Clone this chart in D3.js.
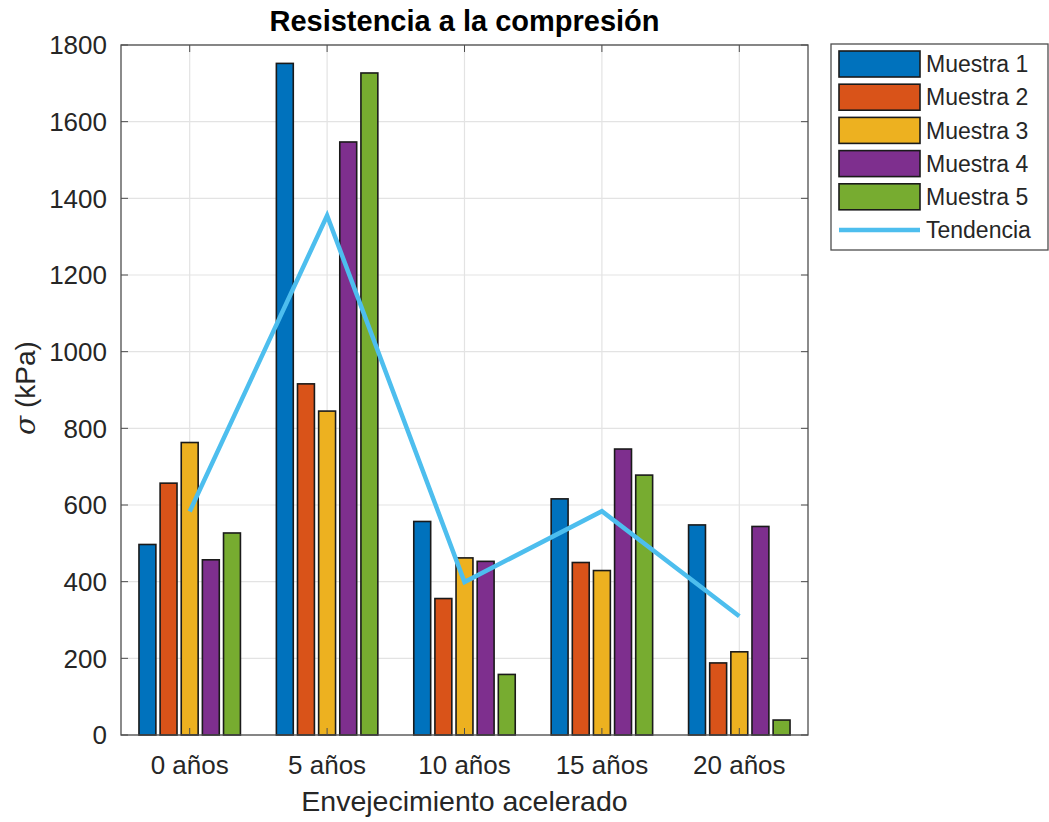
<!DOCTYPE html>
<html>

<head>
    <title>Resistencia a la compresión</title>
    <script src="https://cdn.jsdelivr.net/npm/d3@7"></script>
    <style>
        body { margin: 0; background: #fff; }
        text { font-family: "Liberation Sans", Arial, sans-serif; fill: #262626; }
    </style>
</head>

<body>
    <svg width="1049" height="822" id="mainsvg"></svg>
    <script>
        // data
        const categories = ['0 años', '5 años', '10 años', '15 años', '20 años'];
        const seriesNames = ['Muestra 1', 'Muestra 2', 'Muestra 3', 'Muestra 4', 'Muestra 5'];
        const muestra1 = [497, 1752, 557, 616, 548];
        const muestra2 = [657, 916, 356, 450, 188];
        const muestra3 = [763, 845, 462, 429, 217];
        const muestra4 = [457, 1547, 453, 746, 544];
        const muestra5 = [527, 1727, 158, 678, 39];
        const tendencia = [583, 1355, 399, 584, 310];
        const yTicks = [0, 200, 400, 600, 800, 1000, 1200, 1400, 1600, 1800];
        const colors = ['#0072BD', '#D95319', '#EDB120', '#7E2F8E', '#77AC30'];
        const lineColor = '#4DBEEE';

        const seriesValues = [muestra1, muestra2, muestra3, muestra4, muestra5];

        const svg = d3.select('#mainsvg');
        const margin = { left: 121, right: 808, top: 45, bottom: 735 };

        const x = d3.scaleBand()
            .domain(categories)
            .range([margin.left, margin.right])
            .padding(0);
        const bw = x.bandwidth();
        // MATLAB grouped bars: group occupies ~0.77 of the slot
        const groupW = bw * 5 / 6.5;
        const xInner = d3.scaleBand()
            .domain(seriesNames)
            .range([(bw - groupW) / 2, (bw + groupW) / 2])
            .paddingInner(0.2)
            .paddingOuter(0.1);

        const y = d3.scaleLinear()
            .domain([0, 1800])
            .range([margin.bottom, margin.top]);

        const cx = c => x(c) + bw / 2;

        // grid
        const grid = svg.append('g');
        grid.selectAll('.hgrid')
            .data(yTicks)
            .join('line')
            .attr('class', 'hgrid')
            .attr('x1', margin.left).attr('x2', margin.right)
            .attr('y1', d => y(d)).attr('y2', d => y(d))
            .attr('stroke', '#e3e3e3').attr('stroke-width', 1.2);
        grid.selectAll('.vgrid')
            .data(categories)
            .join('line')
            .attr('class', 'vgrid')
            .attr('x1', cx).attr('x2', cx)
            .attr('y1', margin.top).attr('y2', margin.bottom)
            .attr('stroke', '#e3e3e3').attr('stroke-width', 1.2);

        // bars
        const groups = svg.append('g')
            .selectAll('g')
            .data(seriesNames)
            .join('g')
            .attr('fill', (d, i) => colors[i]);
        groups.selectAll('rect')
            .data((s, i) => seriesValues[i].map((v, j) => ({ s, v, c: categories[j] })))
            .join('rect')
            .attr('x', d => x(d.c) + xInner(d.s))
            .attr('width', xInner.bandwidth())
            .attr('y', d => y(d.v))
            .attr('height', d => y(0) - y(d.v))
            .attr('stroke', '#1a1a1a')
            .attr('stroke-width', 1.6);

        // trend line
        const line = d3.line()
            .x((d, i) => cx(categories[i]))
            .y(d => y(d));
        svg.append('path')
            .datum(tendencia)
            .attr('d', line)
            .attr('fill', 'none')
            .attr('stroke', lineColor)
            .attr('stroke-width', 4.5)
            .attr('stroke-linejoin', 'miter');

        // axes box and inward ticks
        const axes = svg.append('g');
        axes.append('rect')
            .attr('x', margin.left).attr('y', margin.top)
            .attr('width', margin.right - margin.left)
            .attr('height', margin.bottom - margin.top)
            .attr('fill', 'none')
            .attr('stroke', '#4d4d4d')
            .attr('stroke-width', 1.3);
        const tk = 7;
        axes.selectAll('.ytl')
            .data(yTicks).join('line').attr('class', 'ytl')
            .attr('x1', margin.left).attr('x2', margin.left + tk)
            .attr('y1', d => y(d)).attr('y2', d => y(d))
            .attr('stroke', '#4d4d4d');
        axes.selectAll('.ytr')
            .data(yTicks).join('line').attr('class', 'ytr')
            .attr('x1', margin.right).attr('x2', margin.right - tk)
            .attr('y1', d => y(d)).attr('y2', d => y(d))
            .attr('stroke', '#4d4d4d');
        axes.selectAll('.xtb')
            .data(categories).join('line').attr('class', 'xtb')
            .attr('x1', cx).attr('x2', cx)
            .attr('y1', margin.bottom).attr('y2', margin.bottom - tk)
            .attr('stroke', '#4d4d4d');
        axes.selectAll('.xtt')
            .data(categories).join('line').attr('class', 'xtt')
            .attr('x1', cx).attr('x2', cx)
            .attr('y1', margin.top).attr('y2', margin.top + tk)
            .attr('stroke', '#4d4d4d');

        // tick labels
        svg.append('g').selectAll('text')
            .data(yTicks).join('text')
            .attr('x', 107)
            .attr('y', d => y(d))
            .attr('dy', '0.36em')
            .attr('text-anchor', 'end')
            .attr('font-size', 26)
            .text(d => d);
        svg.append('g').selectAll('text')
            .data(categories).join('text')
            .attr('x', cx)
            .attr('y', 774)
            .attr('text-anchor', 'middle')
            .attr('font-size', 26)
            .text(d => d);

        // labels
        svg.append('text')
            .attr('x', (margin.left + margin.right) / 2)
            .attr('y', 811)
            .attr('text-anchor', 'middle')
            .attr('font-size', 28.5)
            .text('Envejecimiento acelerado');
        const ylab = svg.append('text')
            .attr('transform', 'translate(35, 388) rotate(-90)')
            .attr('text-anchor', 'middle')
            .attr('font-size', 28);
        ylab.append('tspan').attr('font-style', 'italic').attr('font-family', '"DejaVu Serif", serif').text('σ');
        ylab.append('tspan').text(' (kPa)');

        svg.append('text')
            .attr('x', (margin.left + margin.right) / 2)
            .attr('y', 31)
            .attr('text-anchor', 'middle')
            .attr('font-size', 29)
            .attr('font-weight', 'bold')
            .style('fill', '#000')
            .text('Resistencia a la compresión');

        // legend
        const leg = svg.append('g');
        leg.append('rect')
            .attr('x', 831).attr('y', 44)
            .attr('width', 217).attr('height', 206)
            .attr('fill', '#fff')
            .attr('stroke', '#4d4d4d')
            .attr('stroke-width', 1.3);
        const rowY = i => 64 + i * 33.2;
        leg.selectAll('.sw')
            .data(seriesNames).join('rect').attr('class', 'sw')
            .attr('x', 839).attr('width', 81)
            .attr('y', (d, i) => rowY(i) - 13).attr('height', 26)
            .attr('fill', (d, i) => colors[i])
            .attr('stroke', '#1a1a1a').attr('stroke-width', 1.6);
        leg.append('line')
            .attr('x1', 839).attr('x2', 920)
            .attr('y1', rowY(5)).attr('y2', rowY(5))
            .attr('stroke', lineColor).attr('stroke-width', 4.5);
        leg.selectAll('.lt')
            .data(seriesNames.concat(['Tendencia'])).join('text').attr('class', 'lt')
            .attr('x', 926)
            .attr('y', (d, i) => rowY(i))
            .attr('dy', '0.36em')
            .attr('font-size', 23)
            .text(d => d);
    </script>
</body>

</html>
